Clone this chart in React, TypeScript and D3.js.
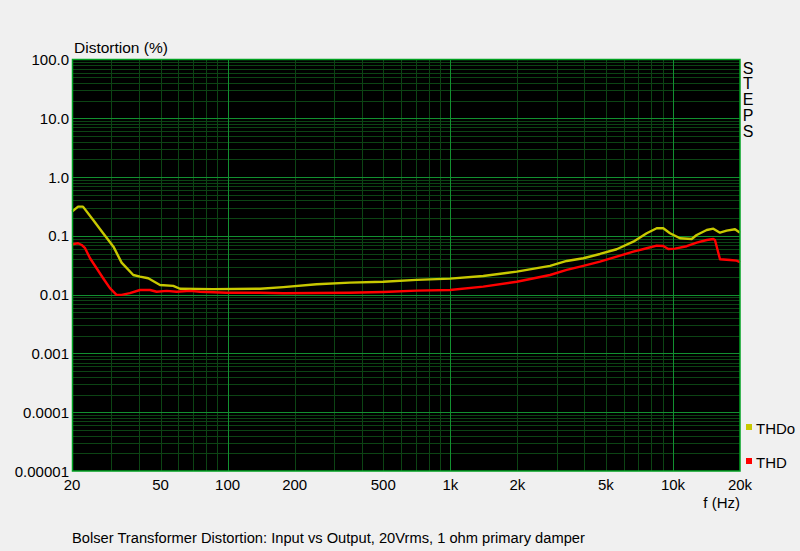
import React, { useRef, useEffect } from 'react';
import * as d3 from 'd3';

// THDo (output) series
const thdoFreq = [
  20, 21.3, 22.4, 24.9, 27.6, 30.7, 33.4, 37.7, 40.4, 44, 49.7, 57, 61.1, 86, 140, 178, 251, 354, 500,
  706, 997, 1406, 1988, 2804, 3332, 3957, 4700, 5586, 6634, 7620, 8452, 9046, 9697, 10754, 12134,
  12780, 14176, 15178, 16260, 17420, 18994, 20000,
];
const thdoVals = [
  0.258, 0.314, 0.314, 0.186, 0.111, 0.0655, 0.035, 0.0216, 0.0202, 0.019, 0.0146, 0.0141, 0.0126,
  0.0124, 0.0126, 0.0134, 0.015, 0.016, 0.0166, 0.0178, 0.0187, 0.0208, 0.0246, 0.0308, 0.0374,
  0.0416, 0.0492, 0.0592, 0.0796, 0.1107, 0.1346, 0.1346, 0.1107, 0.091, 0.0885, 0.1035, 0.126,
  0.1325, 0.1133, 0.1226, 0.1294, 0.1133,
];

// THD (input) series
const thdFreq = [
  20, 21.3, 22.1, 22.9, 24.1, 25.8, 27.6, 29.6, 31.7, 33.4, 36.4, 40.4, 44.8, 48, 53.3, 59.1, 67.8,
  75.1, 99, 140, 178, 354, 500, 706, 997, 1406, 1988, 2804, 3332, 3957, 4700, 5586, 6634, 7620, 8452,
  9046, 9528, 10210, 11526, 12780, 14176, 15178, 15440, 16260, 18034, 19310, 20000,
];
const thdVals = [
  0.072, 0.0748, 0.07, 0.0616, 0.0416, 0.0281, 0.019, 0.0129, 0.0099, 0.0099, 0.0106, 0.012, 0.012,
  0.0112, 0.0116, 0.0112, 0.0116, 0.0112, 0.0108, 0.0108, 0.01057, 0.0108, 0.0111, 0.0117, 0.012,
  0.0137, 0.0166, 0.0216, 0.0263, 0.0308, 0.0364, 0.0443, 0.0538, 0.0615, 0.0681, 0.0673, 0.0599,
  0.0606, 0.0666, 0.0766, 0.0851, 0.0885, 0.0851, 0.04, 0.0389, 0.0379, 0.0356,
];

const xTicks = [20, 50, 100, 200, 500, 1000, 2000, 5000, 10000, 20000];
const xTickLabels = ['20', '50', '100', '200', '500', '1k', '2k', '5k', '10k', '20k'];
const yTicks = [100, 10, 1, 0.1, 0.01, 0.001, 0.0001, 0.00001];
const yTickLabels = ['100.0', '10.0', '1.0', '0.1', '0.01', '0.001', '0.0001', '0.00001'];

const legendNames = ['THDo', 'THD'];
const colors = ['#c8c800', '#ff0000'];

const App: React.FC = () => {
  const svgRef = useRef<SVGSVGElement | null>(null);

  useEffect(() => {
    if (!svgRef.current) return;
    const svg = d3.select(svgRef.current);
    svg.selectAll('*').remove();

    const left = 72;
    const right = 740;
    const top = 59.5;
    const bottom = 471;
    const font = 'Liberation Sans, Arial, sans-serif';

    svg.append('rect').attr('width', 800).attr('height', 551).attr('fill', '#f0f0f0');

    const x = d3.scaleLog().domain([20, 20000]).range([left, right]);
    const y = d3.scaleLog().domain([0.00001, 100]).range([bottom, top]);

    // plot background
    svg
      .append('rect')
      .attr('x', left)
      .attr('y', top)
      .attr('width', right - left)
      .attr('height', bottom - top)
      .attr('fill', '#000');

    // grid
    const xMinor: number[] = [];
    [10, 100, 1000, 10000].forEach((dec) => {
      for (let k = 1; k <= 9; k++) {
        const v = dec * k;
        if (v > 20 && v < 20000) xMinor.push(v);
      }
    });
    const yMinor: number[] = [];
    [0.00001, 0.0001, 0.001, 0.01, 0.1, 1, 10].forEach((dec) => {
      for (let k = 2; k <= 9; k++) yMinor.push(dec * k);
    });
    const isDecade = (v: number) => Math.abs(Math.log10(v) - Math.round(Math.log10(v))) < 1e-6;

    const grid = svg.append('g').attr('shape-rendering', 'crispEdges');
    grid
      .selectAll('.vmin')
      .data(xMinor.filter((v) => !isDecade(v)))
      .enter()
      .append('line')
      .attr('x1', (d) => Math.round(x(d)) + 0.5)
      .attr('x2', (d) => Math.round(x(d)) + 0.5)
      .attr('y1', top)
      .attr('y2', bottom)
      .attr('stroke', '#0c4414');
    grid
      .selectAll('.hmin')
      .data(yMinor)
      .enter()
      .append('line')
      .attr('x1', left)
      .attr('x2', right)
      .attr('y1', (d) => Math.round(y(d)) + 0.5)
      .attr('y2', (d) => Math.round(y(d)) + 0.5)
      .attr('stroke', '#0c4414');
    grid
      .selectAll('.vmaj')
      .data(xMinor.filter((v) => isDecade(v)))
      .enter()
      .append('line')
      .attr('x1', (d) => Math.round(x(d)) + 0.5)
      .attr('x2', (d) => Math.round(x(d)) + 0.5)
      .attr('y1', top)
      .attr('y2', bottom)
      .attr('stroke', '#129030');
    grid
      .selectAll('.hmaj')
      .data(yTicks.slice(1, -1))
      .enter()
      .append('line')
      .attr('x1', left)
      .attr('x2', right)
      .attr('y1', (d) => Math.round(y(d)) + 0.5)
      .attr('y2', (d) => Math.round(y(d)) + 0.5)
      .attr('stroke', '#129030');

    // curves
    const line = d3
      .line<[number, number]>()
      .x((d) => x(d[0]))
      .y((d) => y(d[1]));
    const series: [number, number][][] = [
      thdoFreq.map((f, i) => [f, thdoVals[i]]),
      thdFreq.map((f, i) => [f, thdVals[i]]),
    ];
    series.forEach((s, i) => {
      svg
        .append('path')
        .attr('d', line(s)!)
        .attr('fill', 'none')
        .attr('stroke', colors[i])
        .attr('stroke-width', 2.4)
        .attr('stroke-linejoin', 'round');
    });

    // border
    svg
      .append('rect')
      .attr('x', left + 0.5)
      .attr('y', top)
      .attr('width', right - left - 0.5)
      .attr('height', bottom - top)
      .attr('fill', 'none')
      .attr('stroke', '#00a020')
      .attr('stroke-width', 1.5);

    // y tick labels
    svg
      .selectAll('.ylab')
      .data(yTicks)
      .enter()
      .append('text')
      .attr('x', left - 3)
      .attr('y', (d) => y(d) + 5.5)
      .attr('text-anchor', 'end')
      .attr('font-family', font)
      .attr('font-size', 15)
      .attr('fill', '#000')
      .text((d, i) => yTickLabels[i]);

    // x tick labels
    svg
      .selectAll('.xlab')
      .data(xTicks)
      .enter()
      .append('text')
      .attr('x', (d) => x(d))
      .attr('y', 490)
      .attr('text-anchor', 'middle')
      .attr('font-family', font)
      .attr('font-size', 15)
      .attr('fill', '#000')
      .text((d, i) => xTickLabels[i]);

    const txt = (tx: number, ty: number, s: string, size = 15, anchor = 'start') =>
      svg
        .append('text')
        .attr('x', tx)
        .attr('y', ty)
        .attr('text-anchor', anchor)
        .attr('font-family', font)
        .attr('font-size', size)
        .attr('fill', '#000')
        .text(s);

    txt(74, 53, 'Distortion (%)', 15.5);
    txt(740, 508, 'f (Hz)', 15, 'end');
    txt(72, 543, 'Bolser Transformer Distortion: Input vs Output, 20Vrms, 1 ohm primary damper', 14.7);

    // STEPS vertical
    'STEPS'.split('').forEach((c, i) => {
      txt(748, 73.5 + i * 15.8, c, 16, 'middle');
    });

    // legend
    legendNames.forEach((n, i) => {
      const ly = 433.5 + i * 34;
      svg
        .append('rect')
        .attr('x', 746)
        .attr('y', ly - 9.5)
        .attr('width', 6)
        .attr('height', 6)
        .attr('fill', colors[i]);
      txt(756, ly, n);
    });
  }, []);

  return (
    <svg
      ref={svgRef}
      width={800}
      height={551}
      style={{ position: 'absolute', left: 0, top: 0, display: 'block' }}
    />
  );
};

export default App;
